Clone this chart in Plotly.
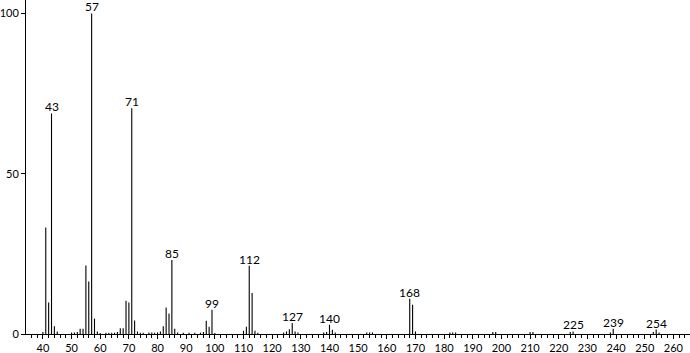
import plotly.graph_objects as go

# m/z values and relative intensities
mz = [40, 41, 42, 43, 44, 45, 50, 51, 52, 53, 54, 55, 56, 57, 58, 59, 60,
      62, 63, 64, 65, 66, 67, 68, 69, 70, 71, 72, 73, 74, 75, 77, 78, 79, 80,
      81, 82, 83, 84, 85, 86, 87, 89, 91, 93, 95, 96, 97, 98, 99, 100,
      110, 111, 112, 113, 114, 115, 124, 125, 126, 127, 128, 129,
      138, 139, 140, 141, 142, 153, 154, 155, 168, 169, 170,
      182, 183, 184, 197, 198, 210, 211, 224, 225, 238, 239, 253, 254, 255]
intensity = [0.6, 33.2, 9.8, 68.8, 2.4, 0.8, 0.5, 0.5, 0.6, 1.6, 1.6, 21.4, 16.4, 100.0, 4.8, 0.8, 0.3,
             0.4, 0.4, 0.4, 0.4, 0.6, 1.8, 1.8, 10.4, 9.8, 70.4, 4.2, 0.8, 0.4, 0.4, 0.5, 0.5, 0.4, 0.5,
             0.8, 2.4, 8.3, 6.4, 23.1, 1.6, 0.5, 0.4, 0.4, 0.4, 0.4, 0.6, 4.1, 2.3, 7.6, 0.3,
             1.0, 2.3, 21.3, 12.8, 1.0, 0.4, 0.5, 0.8, 1.5, 3.4, 0.8, 0.5,
             0.5, 0.6, 2.9, 1.3, 0.5, 0.5, 0.5, 0.5, 11.0, 9.1, 0.8,
             0.5, 0.5, 0.5, 0.6, 0.6, 0.6, 0.6, 0.6, 0.8, 0.5, 1.6, 0.6, 1.4, 0.5]
labeled = [43, 57, 71, 85, 99, 112, 127, 140, 168, 225, 239, 254]
x_ticks = list(range(40, 261, 10))
y_ticks = [0, 50, 100]

xs, ys = [], []
for m, v in zip(mz, intensity):
    xs += [m, m, None]
    ys += [0, v, None]

fig = go.Figure()
fig.add_trace(go.Scatter(x=xs, y=ys, mode="lines",
                         line=dict(color="black", width=1.1),
                         hoverinfo="skip", showlegend=False))

lookup = dict(zip(mz, intensity))
for m in labeled:
    fig.add_annotation(x=m, y=lookup[m], text=str(m), showarrow=False,
                       yanchor="bottom", yshift=-2, borderpad=0,
                       font=dict(size=12, color="black"))

font = "Lato, Open Sans, DejaVu Sans, sans-serif"
fig.update_layout(
    width=690, height=353,
    margin=dict(l=26, r=0, t=0, b=19),
    plot_bgcolor="white", paper_bgcolor="white",
    font=dict(family=font, size=12, color="black"),
    showlegend=False,
    xaxis=dict(range=[34.1, 265.8], tickvals=x_ticks, ticks="outside", ticklen=4,
               tickcolor="black", tickwidth=1, showline=True, linecolor="black",
               linewidth=1, showgrid=False, zeroline=False, automargin=False,
               minor=dict(dtick=2, tick0=0, ticks="outside", ticklen=3,
                          tickcolor="black", showgrid=False),
               tickfont=dict(size=11)),
    yaxis=dict(range=[0, 104.2], tickvals=y_ticks, ticks="outside", ticklen=4,
               tickcolor="black", showline=True, linecolor="black", linewidth=1,
               showgrid=False, zeroline=False, automargin=False,
               tickfont=dict(size=11)),
)

fig.write_html("out.html")
